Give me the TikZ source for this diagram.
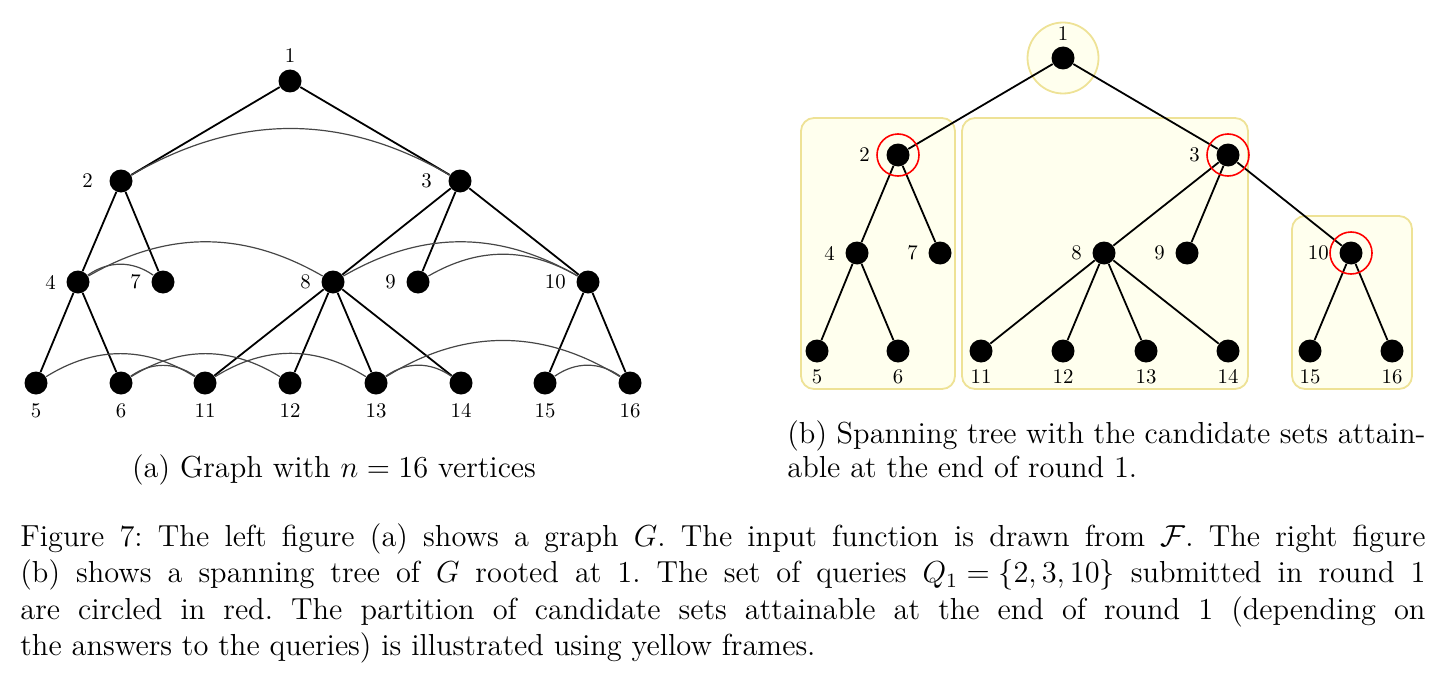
\documentclass[tikz,border=0pt]{standalone}
\usepackage{amsmath}
\usepackage{graphicx}
\definecolor{frameyel}{RGB}{238,226,150}
\definecolor{fillyel}{RGB}{255,255,238}
\definecolor{arcgray}{RGB}{70,70,70}
\newcommand\mycapline[2]{\scalebox{1.267}{\makebox[#1][s]{#2}}}
\newcommand\mycaptext[1]{\scalebox{1.267}{#1}}
\tikzset{
  vtx/.style={circle,fill=black,minimum size=11.5pt,inner sep=0pt},
  lbl/.style={font=\fontsize{10.4}{12}\selectfont,inner sep=0pt},
  ltop/.style={label={[lbl,label distance=3.25pt]above:#1}},
  lone/.style={label={[lbl,label distance=8pt]left:#1}},
  ltwo/.style={label={[lbl,label distance=5pt]left:#1}},
  lleaf/.style={label={[lbl,label distance=4pt]below:#1}},
  rtop/.style={label={[lbl,label distance=2.75pt]above:#1}},
  rleaf/.style={label={[lbl,label distance=3.25pt]below:#1}},
  tedge/.style={line width=0.9pt,black},
  cedge/.style={line width=0.6pt,arcgray},
  yframe/.style={draw=frameyel,fill=fillyel,line width=0.9pt,rounded corners=6.5pt},
  query/.style={draw=red,line width=0.8pt,circle,minimum size=21pt,inner sep=0pt},
  captext/.style={font=\fontsize{12}{14}\selectfont\frenchspacing,inner sep=0pt,anchor=base west},
}
\begin{document}
\begin{tikzpicture}[x=0.5pt,y=0.5pt]
\useasboundingbox (0,0) rectangle (1444,-690);

% ---------- (a) graph ----------
\node[vtx,ltop=1]  (L1)  at (290,-81) {};
\node[vtx,lone=2]  (L2)  at (121,-181) {};
\node[vtx,lone=3]  (L3)  at (460,-181) {};
\node[vtx,ltwo=4]  (L4)  at (78,-282) {};
\node[vtx,ltwo=7]  (L7)  at (163,-282) {};
\node[vtx,ltwo=8]  (L8)  at (333,-282) {};
\node[vtx,ltwo=9]  (L9)  at (418,-282) {};
\node[vtx,ltwo=10] (L10) at (588,-282) {};
\node[vtx,lleaf=5]  (L5)  at (36,-383) {};
\node[vtx,lleaf=6]  (L6)  at (121,-383) {};
\node[vtx,lleaf=11] (L11) at (205,-383) {};
\node[vtx,lleaf=12] (L12) at (290,-383) {};
\node[vtx,lleaf=13] (L13) at (376,-383) {};
\node[vtx,lleaf=14] (L14) at (461,-383) {};
\node[vtx,lleaf=15] (L15) at (545,-383) {};
\node[vtx,lleaf=16] (L16) at (630,-383) {};

\draw[tedge] (L1)--(L2) (L1)--(L3) (L2)--(L4) (L2)--(L7) (L3)--(L8) (L3)--(L9)
  (L3)--(L10) (L4)--(L5) (L4)--(L6) (L8)--(L11) (L8)--(L12) (L8)--(L13)
  (L8)--(L14) (L10)--(L15) (L10)--(L16);
\draw[cedge] (L2) to[bend left=30] (L3);
\draw[cedge] (L4) to[bend left=35] (L7);
\draw[cedge] (L4) to[bend left=30] (L8);
\draw[cedge] (L8) to[bend left=30] (L10);
\draw[cedge] (L9) to[bend left=30] (L10);
\draw[cedge] (L5) to[bend left=32] (L11);
\draw[cedge] (L6) to[bend left=35] (L11);
\draw[cedge] (L6) to[bend left=32] (L12);
\draw[cedge] (L11) to[bend left=32] (L13);
\draw[cedge] (L13) to[bend left=35] (L14);
\draw[cedge] (L13) to[bend left=32] (L16);
\draw[cedge] (L15) to[bend left=35] (L16);

% ---------- (b) spanning tree ----------
\draw[yframe] (1063,-58) circle[radius=17.75pt];
\draw[yframe] (801,-118) rectangle (955,-389);
\draw[yframe] (962,-118) rectangle (1248,-389);
\draw[yframe] (1292,-216) rectangle (1412,-389);

\node[vtx,rtop=1]  (R1)  at (1063,-58) {};
\node[vtx,lone=2]  (R2)  at (898,-155) {};
\node[vtx,lone=3]  (R3)  at (1228,-155) {};
\node[vtx,ltwo=4]  (R4)  at (857,-253) {};
\node[vtx,ltwo=7]  (R7)  at (940,-253) {};
\node[vtx,ltwo=8]  (R8)  at (1104,-253) {};
\node[vtx,ltwo=9]  (R9)  at (1187,-253) {};
\node[vtx,ltwo=10] (R10) at (1351,-253) {};
\node[vtx,rleaf=5]  (R5)  at (817,-351) {};
\node[vtx,rleaf=6]  (R6)  at (898,-351) {};
\node[vtx,rleaf=11] (R11) at (981,-351) {};
\node[vtx,rleaf=12] (R12) at (1063,-351) {};
\node[vtx,rleaf=13] (R13) at (1146,-351) {};
\node[vtx,rleaf=14] (R14) at (1228,-351) {};
\node[vtx,rleaf=15] (R15) at (1310,-351) {};
\node[vtx,rleaf=16] (R16) at (1392,-351) {};

\draw[tedge] (R1)--(R2) (R1)--(R3) (R2)--(R4) (R2)--(R7) (R3)--(R8) (R3)--(R9)
  (R3)--(R10) (R4)--(R5) (R4)--(R6) (R8)--(R11) (R8)--(R12) (R8)--(R13)
  (R8)--(R14) (R10)--(R15) (R10)--(R16);

\node[query] (Q2)  at (R2) {};
\node[query] (Q3)  at (R3) {};
\node[query] (Q10) at (R10) {};

% ---------- captions ----------
\node[captext,anchor=base] (capa) at (334,-477) {\mycaptext{(a) Graph with $n = 16$ vertices}};
\node[captext] (capb1) at (787,-443) {\mycapline{251.8pt}{(b) Spanning tree with the candidate sets attain-}};
\node[captext] (capb2) at (787,-477) {\mycaptext{able at the end of round 1.}};

\node[captext] (cap1) at (20,-546) {\mycapline{554.5pt}{Figure 7: The left figure (a) shows a graph $G$. The input function is drawn from $\mathcal{F}$. The right figure}};
\node[captext] (cap2) at (20,-582.5) {\mycapline{554.5pt}{(b) shows a spanning tree of $G$ rooted at 1. The set of queries \mbox{$Q_1 = \{2, 3, 10\}$} submitted in round 1}};
\node[captext] (cap3) at (20,-619) {\mycapline{554.5pt}{are circled in red. The partition of candidate sets attainable at the end of round 1 (depending on}};
\node[captext] (cap4) at (20,-655.5) {\mycaptext{the answers to the queries) is illustrated using yellow frames.}};
\end{tikzpicture}
\end{document}
